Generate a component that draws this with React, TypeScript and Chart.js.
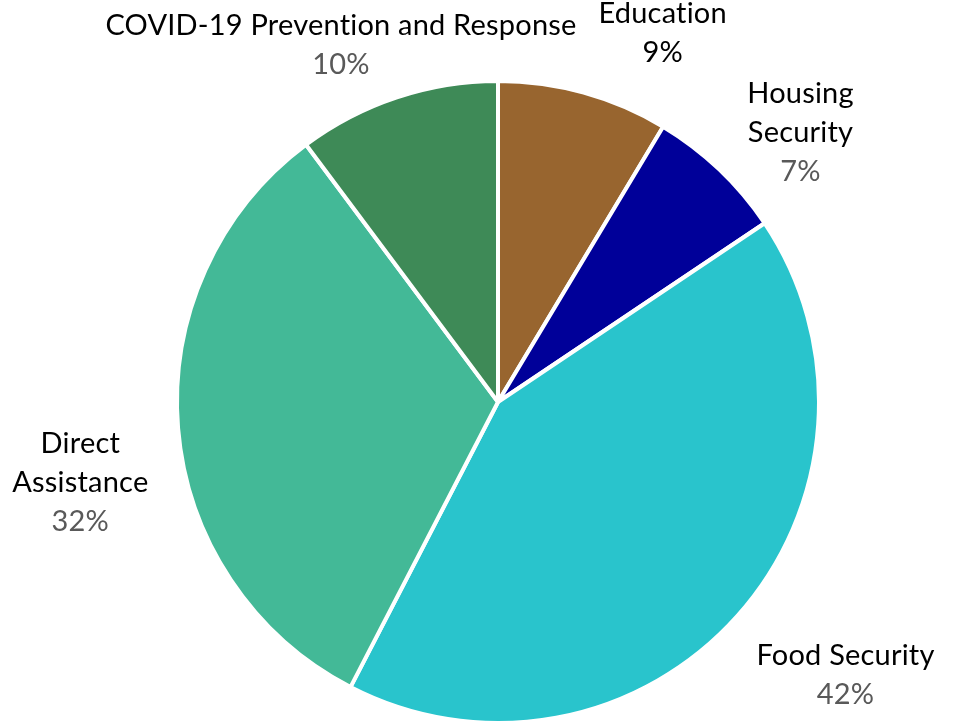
import React, { useEffect, useRef } from "react";
import { Chart, registerables } from "chart.js";

Chart.register(...registerables);

const categories = [
  "Education",
  "Housing Security",
  "Food Security",
  "Direct Assistance",
  "COVID-19 Prevention and Response",
];
const labelLines = [
  ["Education"],
  ["Housing", "Security"],
  ["Food Security"],
  ["Direct", "Assistance"],
  ["COVID-19 Prevention and Response"],
];
const values = [8.6, 7.0, 42.0, 32.2, 10.2];
const colors = ["#98652F", "#000099", "#29C4CC", "#43B997", "#3E8A57"];

// label placement (angle nudge in degrees, radial factor)
const labelLayout = [
  { da: 8.6, rf: 1.257, pctColor: "#000000" },
  { da: 4.8, rf: 1.261, pctColor: "#595959" },
  { da: -3.6, rf: 1.377, pctColor: "#595959" },
  { da: -6.2, rf: 1.325, pctColor: "#595959" },
  { da: -5.4, rf: 1.214, pctColor: "#595959" },
];

const FONT = "Lato, 'Open Sans', sans-serif";
const FONT_SIZE = 29;
const LINE_H = 39;

const outsideLabels = {
  id: "outsideLabels",
  afterDatasetsDraw(chart: any) {
    const { ctx } = chart;
    const meta = chart.getDatasetMeta(0);
    const data = chart.data.datasets[0].data as number[];
    const total = data.reduce((a, b) => a + b, 0);
    ctx.save();
    ctx.font = `${FONT_SIZE}px ${FONT}`;
    try {
      (ctx as any).letterSpacing = "0.2px";
    } catch (e) {}
    ctx.textAlign = "center";
    ctx.textBaseline = "middle";
    meta.data.forEach((arc: any, i: number) => {
      const { x, y, startAngle, endAngle, outerRadius } = arc.getProps(
        ["x", "y", "startAngle", "endAngle", "outerRadius"],
        true
      );
      const lay = labelLayout[i];
      const mid = (startAngle + endAngle) / 2 + (lay.da * Math.PI) / 180;
      const d = outerRadius * lay.rf;
      const cx = x + Math.cos(mid) * d;
      const cy = y + Math.sin(mid) * d;
      const lines = [...labelLines[i], Math.round((data[i] / total) * 100) + "%"];
      const y0 = cy - ((lines.length - 1) * LINE_H) / 2;
      lines.forEach((t, k) => {
        ctx.fillStyle = k === lines.length - 1 ? lay.pctColor : "#000000";
        ctx.fillText(t, cx, y0 + k * LINE_H);
      });
    });
    ctx.restore();
  },
};

export default function App() {
  const ref = useRef<HTMLCanvasElement | null>(null);
  useEffect(() => {
    if (!ref.current) return;
    const chart = new Chart(ref.current, {
      type: "pie",
      data: {
        labels: categories,
        datasets: [
          {
            data: values,
            backgroundColor: colors,
            borderColor: "#ffffff",
            borderWidth: 4,
          },
        ],
      },
      options: {
        animation: false,
        responsive: true,
        maintainAspectRatio: false,
        radius: 321,
        layout: { padding: { left: 178, right: 135, top: 82, bottom: 1 } },
        plugins: {
          legend: { display: false },
          tooltip: { enabled: false },
        },
      } as any,
      plugins: [outsideLabels],
    });
    return () => chart.destroy();
  }, []);
  return (
    <div
      style={{
        position: "absolute",
        left: 0,
        top: 0,
        width: 953,
        height: 723,
        background: "#ffffff",
      }}
    >
      <canvas ref={ref} />
    </div>
  );
}
